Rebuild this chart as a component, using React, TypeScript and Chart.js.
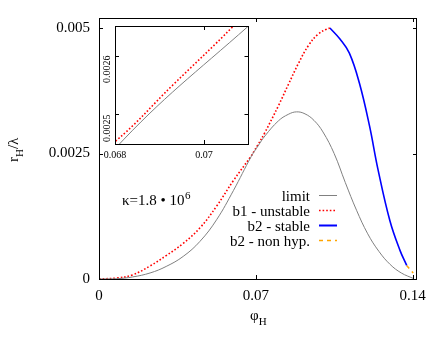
import React, { useEffect, useRef } from "react";
import { Chart, registerables } from "chart.js";

Chart.register(...registerables);

// ---------- data ----------
const limitPhi = [0, 0.008, 0.0149, 0.0228, 0.03, 0.0376, 0.0451, 0.0525, 0.06, 0.068, 0.071, 0.0741, 0.0801, 0.0845, 0.0882, 0.092, 0.096, 0.1, 0.105, 0.11, 0.115, 0.12, 0.125, 0.13, 0.135, 0.1404];
const limitR = [0, 0.000006, 0.00004, 0.00012, 0.00025, 0.00045, 0.00075, 0.00118, 0.00176, 0.002442, 0.00265, 0.00285, 0.00315, 0.00328, 0.00333, 0.00329, 0.00316, 0.00293, 0.0025, 0.00192, 0.00137, 0.0009, 0.00055, 0.00029, 0.00012, 0.00001];

const b1Phi = [0, 0.008, 0.0149, 0.0228, 0.0298, 0.0376, 0.0451, 0.0525, 0.06, 0.068, 0.0693, 0.07066, 0.0741, 0.0801, 0.0845, 0.089, 0.0935, 0.0979, 0.1017, 0.1031];
const b1R = [0, 0.00002, 0.00008, 0.00026, 0.00046, 0.00071, 0.00102, 0.00145, 0.00196, 0.002454, 0.00255, 0.00265, 0.00292, 0.00345, 0.00387, 0.00429, 0.00465, 0.00488, 0.00498, 0.005];

const b2Phi = [0.1031, 0.1076, 0.1118, 0.1163, 0.1208, 0.1245, 0.1299, 0.1344, 0.1374];
const b2R = [0.005, 0.00478, 0.0045, 0.0039, 0.00305, 0.0022, 0.00116, 0.00057, 0.00027];

const b2nhPhi = [0.1374, 0.1389, 0.1403];
const b2nhR = [0.00027, 0.00019, 0.00012];

const seriesLabels = ["limit", "b1 - unstable", "b2 - stable", "b2 - non hyp."];

const xTicks = [0, 0.07, 0.14];
const xTickLabels = ["0", "0.07", "0.14"];
const yTicks = [0, 0.0025, 0.005];
const yTickLabels = ["0", "0.0025", "0.005"];

const insetXTicks = [0.068, 0.07];
const insetXTickLabels = ["0.068", "0.07"];
const insetYTicks = [0.0025, 0.0026];
const insetYTickLabels = ["0.0025", "0.0026"];

const kappaText = "\u03BA=1.8 \u2022 10";
const kappaExp = "6";

// ---------- helpers ----------
const FONT = '"Liberation Serif", "Times New Roman", serif';
const toPts = (xs: number[], ys: number[]) => xs.map((x, i) => ({ x, y: ys[i] }));
const labelFor = (vals: number[], labels: string[]) => (v: any) => {
  const i = vals.findIndex((t) => Math.abs(t - Number(v)) < 1e-9);
  return i >= 0 ? labels[i] : "";
};

const makeDatasets = () => [
  {
    label: seriesLabels[0],
    data: toPts(limitPhi, limitR),
    borderColor: "#808080",
    borderWidth: 1,
    borderDash: [] as number[],
  },
  {
    label: seriesLabels[1],
    data: toPts(b1Phi, b1R),
    borderColor: "#ff0000",
    borderWidth: 1.6,
    borderDash: [1.6, 2],
  },
  {
    label: seriesLabels[2],
    data: toPts(b2Phi, b2R),
    borderColor: "#0000ff",
    borderWidth: 1.6,
    borderDash: [] as number[],
  },
  {
    label: seriesLabels[3],
    data: toPts(b2nhPhi, b2nhR),
    borderColor: "#ffa500",
    borderWidth: 1.5,
    borderDash: [4, 4],
  },
].map((d) => ({
  ...d,
  pointRadius: 0,
  fill: false,
  tension: 0.4,
}));

const drawFrameAndTicks = (chart: any, xt: number[], yt: number[], len: number) => {
  const { ctx, chartArea: ca, scales } = chart;
  ctx.save();
  ctx.strokeStyle = "#000";
  ctx.lineWidth = 1;
  ctx.setLineDash([]);
  ctx.beginPath();
  xt.forEach((v) => {
    const px = Math.round(scales.x.getPixelForValue(v)) + 0.5;
    ctx.moveTo(px, ca.bottom);
    ctx.lineTo(px, ca.bottom - len);
    ctx.moveTo(px, ca.top);
    ctx.lineTo(px, ca.top + len);
  });
  yt.forEach((v) => {
    const py = Math.round(scales.y.getPixelForValue(v)) + 0.5;
    ctx.moveTo(ca.left, py);
    ctx.lineTo(ca.left + len, py);
    ctx.moveTo(ca.right, py);
    ctx.lineTo(ca.right - len, py);
  });
  ctx.stroke();
  ctx.strokeRect(Math.round(ca.left) + 0.5, Math.round(ca.top) + 0.5, Math.round(ca.right - ca.left) - 1, Math.round(ca.bottom - ca.top));
  ctx.restore();
};

const mainDecor = {
  id: "mainDecor",
  afterDatasetsDraw(chart: any) {
    drawFrameAndTicks(chart, xTicks, yTicks, 4);
    const { ctx } = chart;
    ctx.save();
    ctx.fillStyle = "#000";
    // legend (gnuplot style: text right-aligned, sample on the right)
    const legRight = 310;
    const sampleX0 = 319;
    const sampleX1 = 337;
    chart.data.datasets.forEach((ds: any, i: number) => {
      const y = 195.5 + i * 15;
      ctx.font = `15px ${FONT}`;
      ctx.textAlign = "right";
      ctx.textBaseline = "alphabetic";
      ctx.fillStyle = "#000";
      ctx.fillText(ds.label, legRight, y + 5);
      ctx.strokeStyle = ds.borderColor;
      ctx.lineWidth = i === 2 ? 2 : ds.borderWidth;
      ctx.setLineDash(ds.borderDash || []);
      ctx.beginPath();
      ctx.moveTo(sampleX0, y);
      ctx.lineTo(sampleX1, y);
      ctx.stroke();
      ctx.setLineDash([]);
    });
    // kappa annotation
    ctx.fillStyle = "#000";
    ctx.textAlign = "left";
    ctx.textBaseline = "alphabetic";
    ctx.font = `15px ${FONT}`;
    ctx.fillText(kappaText, 122, 205);
    const w = ctx.measureText(kappaText).width;
    ctx.font = `11px ${FONT}`;
    ctx.fillText(kappaExp, 122 + w + 0.5, 199);
    // x axis title  phi_H
    ctx.font = `15px ${FONT}`;
    ctx.fillText("\u03C6", 250, 320);
    const pw = ctx.measureText("\u03C6").width;
    ctx.font = `11px ${FONT}`;
    ctx.fillText("H", 250 + pw, 325);
    // y axis title r_H/lambda (rotated)
    ctx.translate(17.5, 162);
    ctx.rotate(-Math.PI / 2);
    ctx.font = `15px ${FONT}`;
    ctx.fillText("r", 0, 0);
    const rw = ctx.measureText("r").width;
    ctx.font = `11px ${FONT}`;
    ctx.fillText("H", rw, 5);
    const hw = ctx.measureText("H").width;
    ctx.font = `15px ${FONT}`;
    ctx.fillText("/\u03BB", rw + hw, 0);
    ctx.restore();
  },
};

const insetDecor = {
  id: "insetDecor",
  beforeDatasetsDraw(chart: any) {
    const { ctx, chartArea: ca } = chart;
    ctx.save();
    ctx.fillStyle = "#fff";
    ctx.fillRect(ca.left, ca.top, ca.right - ca.left, ca.bottom - ca.top);
    ctx.restore();
  },
  afterDatasetsDraw(chart: any) {
    drawFrameAndTicks(chart, insetXTicks, insetYTicks, 4);
  },
};

export default function App() {
  const mainRef = useRef<HTMLCanvasElement>(null);
  const insetRef = useRef<HTMLCanvasElement>(null);

  useEffect(() => {
    const tickFont = { family: FONT, size: 15 };
    const main = new Chart(mainRef.current as HTMLCanvasElement, {
      type: "line",
      data: { datasets: makeDatasets() as any },
      options: {
        responsive: false,
        animation: false,
        devicePixelRatio: 1,
        layout: { padding: { left: 0, right: 27, top: 15, bottom: 0 } },
        plugins: { legend: { display: false }, tooltip: { enabled: false } },
        scales: {
          x: {
            type: "linear",
            min: 0,
            max: 0.142,
            afterBuildTicks: (s: any) => {
              s.ticks = xTicks.map((v) => ({ value: v }));
            },
            afterFit: (s: any) => {
              s.height = 63;
            },
            grid: { display: false, drawTicks: false },
            border: { display: false },
            ticks: {
              callback: labelFor(xTicks, xTickLabels),
              font: tickFont,
              color: "#000",
              padding: 8,
              maxRotation: 0,
              autoSkip: false,
            },
          },
          y: {
            type: "linear",
            min: 0,
            max: 0.0052,
            afterBuildTicks: (s: any) => {
              s.ticks = yTicks.map((v) => ({ value: v }));
            },
            afterFit: (s: any) => {
              s.width = 99;
            },
            grid: { display: false, drawTicks: false },
            border: { display: false },
            ticks: {
              callback: labelFor(yTicks, yTickLabels),
              font: tickFont,
              color: "#000",
              padding: 9,
              autoSkip: false,
            },
          },
        },
      } as any,
      plugins: [mainDecor],
    });

    const smallFont = { family: FONT, size: 10 };
    const inset = new Chart(insetRef.current as HTMLCanvasElement, {
      type: "line",
      data: { datasets: makeDatasets() as any },
      options: {
        responsive: false,
        animation: false,
        devicePixelRatio: 1,
        layout: { padding: { left: 0, right: 3.5, top: 5, bottom: 0 } },
        plugins: { legend: { display: false }, tooltip: { enabled: false } },
        scales: {
          x: {
            type: "linear",
            min: 0.068,
            max: 0.071,
            afterBuildTicks: (s: any) => {
              s.ticks = insetXTicks.map((v) => ({ value: v }));
            },
            afterFit: (s: any) => {
              s.height = 23;
            },
            grid: { display: false, drawTicks: false },
            border: { display: false },
            ticks: {
              callback: labelFor(insetXTicks, insetXTickLabels),
              font: smallFont,
              color: "#000",
              padding: 5,
              maxRotation: 0,
              autoSkip: false,
            },
          },
          y: {
            type: "linear",
            min: 0.00245,
            max: 0.00265,
            afterBuildTicks: (s: any) => {
              s.ticks = insetYTicks.map((v) => ({ value: v }));
            },
            afterFit: (s: any) => {
              s.width = 23;
            },
            grid: { display: false, drawTicks: false },
            border: { display: false },
            ticks: {
              callback: labelFor(insetYTicks, insetYTickLabels),
              font: smallFont,
              color: "#000",
              padding: 8,
              minRotation: 90,
              maxRotation: 90,
              autoSkip: false,
            },
          },
        },
      } as any,
      plugins: [insetDecor],
    });

    return () => {
      main.destroy();
      inset.destroy();
    };
  }, []);

  return (
    <div style={{ position: "absolute", left: 0, top: 0, width: 444, height: 342, background: "#fff" }}>
      <canvas ref={mainRef} width={444} height={342} style={{ position: "absolute", left: 0, top: 0 }} />
      <canvas ref={insetRef} width={160} height={155} style={{ position: "absolute", left: 92, top: 12 }} />
    </div>
  );
}
